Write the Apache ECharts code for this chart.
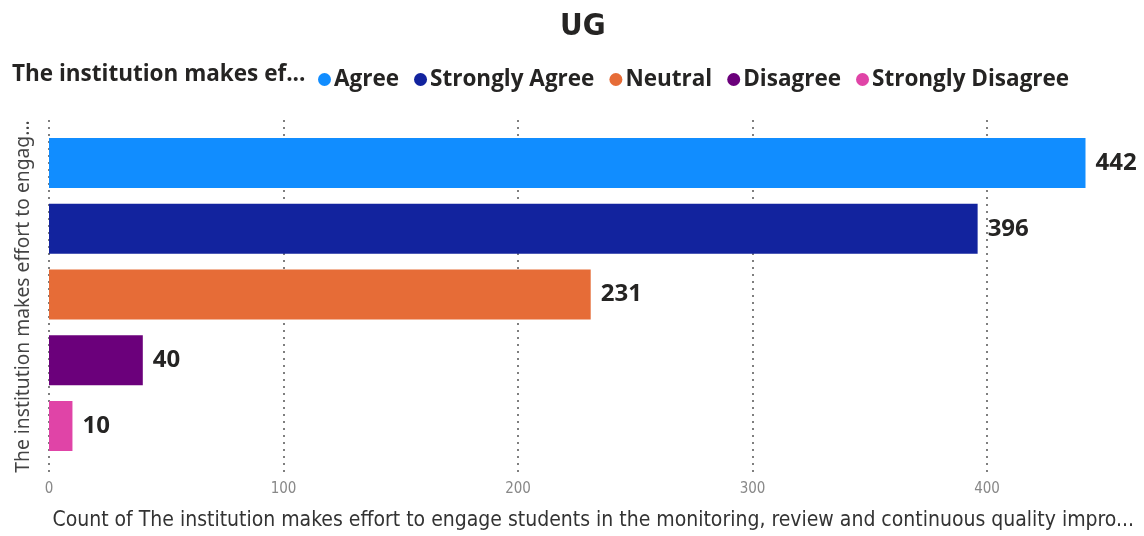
<!DOCTYPE html>
<html>
<head>
<meta charset="utf-8">
<title>UG</title>
<style>
  html, body { margin: 0; height: 100%; background: #fff; }
  #chart { width: 1144px; height: 536px; }
</style>
</head>
<body>
<div id="chart"></div>
<script src="https://cdn.jsdelivr.net/npm/echarts@6/dist/echarts.min.js"></script>
<script>
// data
const categories = ['Agree', 'Strongly Agree', 'Neutral', 'Disagree', 'Strongly Disagree'];
const counts = [442, 396, 231, 40, 10];
const colors = ['#118DFF', '#12239E', '#E66C37', '#6B007B', '#E044A7'];
const xTicks = [0, 100, 200, 300, 400];

const chart = echarts.init(document.getElementById('chart'));

const condensed = "'DejaVu Sans Condensed', 'Liberation Sans Narrow', sans-serif";
const bold = "'Open Sans', 'Noto Sans', sans-serif";

// one series per answer so the legend shows each colour
const series = categories.map((name, i) => ({
    name: name,
    type: 'bar',
    xAxisIndex: 1,
    yAxisIndex: 1,
    stack: 'all',
    barWidth: 50,
    itemStyle: { color: colors[i] },
    label: {
        show: true,
        position: 'right',
        distance: 10,
        fontFamily: bold,
        fontWeight: 'bold',
        fontSize: 24,
        color: '#252423'
    },
    data: [[counts[i], name]]
}));

const option = {
    animation: false,
    title: {
        text: 'UG',
        left: 555,
        top: 6,
        textStyle: { fontFamily: condensed, fontWeight: 'bold', fontSize: 31, color: '#252423' }
    },
    graphic: [{
        type: 'text',
        left: 12,
        top: 63,
        style: {
            text: 'The institution makes ef...',
            fontFamily: bold,
            fontWeight: 'bold',
            fontSize: 22.5,
            fill: '#252423'
        }
    }],
    legend: {
        left: 313,
        top: 63,
        icon: 'circle',
        itemWidth: 13,
        itemHeight: 13,
        itemGap: 15,
        textStyle: { fontFamily: bold, fontWeight: 'bold', fontSize: 22.5, color: '#252423', padding: [0, 0, 0, -2] },
        data: categories
    },
    grid: [
        // gridline frame
        { left: 49, right: 58.5, top: 120, bottom: 58 },
        // bars
        { left: 49, right: 58.5, top: 130, bottom: 77 }
    ],
    xAxis: [
        {
            gridIndex: 0,
            type: 'value',
            min: 0,
            max: counts[0],
            interval: 100,
            axisLine: { show: false },
            axisTick: { show: false },
            splitLine: { showMaxLine: false, lineStyle: { color: '#555', type: [2, 5], width: 1.5 } },
            axisLabel: {
                margin: 9,
                fontFamily: condensed,
                fontSize: 15,
                color: '#888',
                showMaxLabel: false,
                formatter: v => xTicks.includes(v) ? String(v) : ''
            },
            name: 'Count of The institution makes effort to engage students in the monitoring, review and continuous quality impro...',
            nameLocation: 'middle',
            nameGap: 37,
            nameTextStyle: { fontFamily: condensed, fontSize: 21, color: '#333', padding: [0, 0, 0, 52] }
        },
        {
            gridIndex: 1,
            type: 'value',
            min: 0,
            max: counts[0],
            show: false
        }
    ],
    yAxis: [
        {
            gridIndex: 0,
            type: 'category',
            data: categories,
            axisLine: { show: false },
            axisTick: { show: false },
            axisLabel: { show: false },
            name: 'The institution makes effort to engag...',
            nameLocation: 'middle',
            nameRotate: 90,
            nameGap: 16,
            nameTextStyle: { fontFamily: "'Noto Sans', sans-serif", fontSize: 19.3, color: '#444' }
        },
        {
            gridIndex: 1,
            type: 'category',
            inverse: true,
            data: categories,
            show: false
        }
    ],
    series: series
};

chart.setOption(option);
window.addEventListener('resize', () => chart.resize());
</script>
</body>
</html>
